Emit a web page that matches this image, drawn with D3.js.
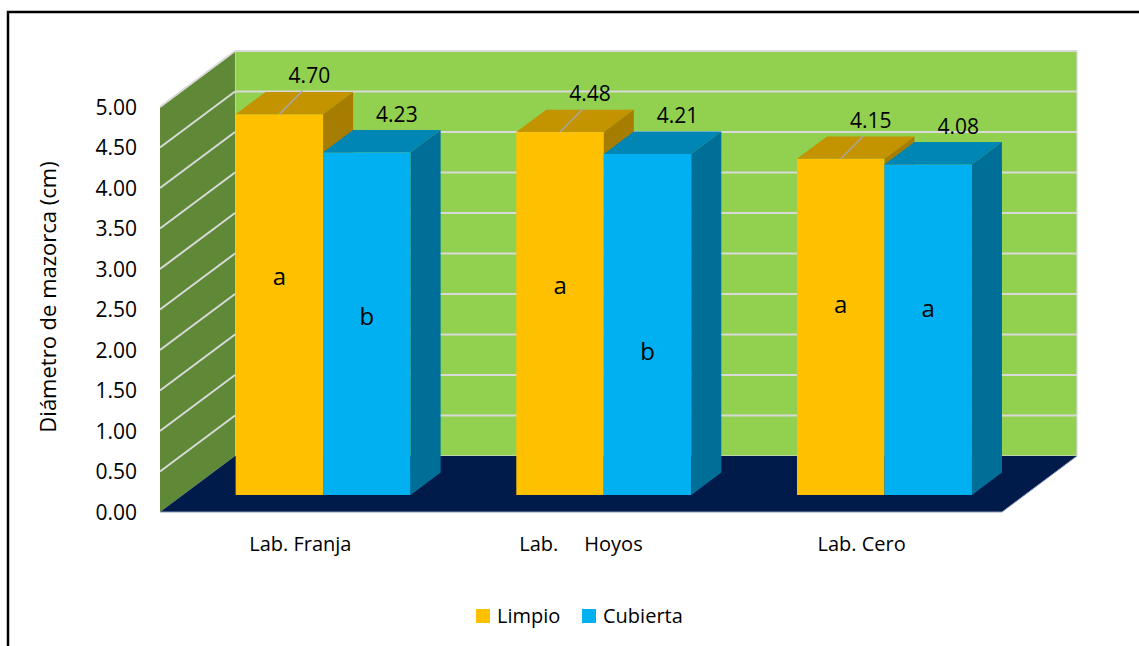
<!DOCTYPE html>
<html>
<head>
<meta charset="utf-8">
<script src="https://cdn.jsdelivr.net/npm/d3@7"></script>
<style>
  html, body { margin: 0; padding: 0; background: #fff; }
  svg { display: block; }
  text { font-family: "Open Sans", "Noto Sans", sans-serif; fill: #000; }
</style>
</head>
<body>
<svg id="chart" width="1139" height="646"></svg>
<script>
// ---- data ----
const categories = ["Lab. Franja", "Lab.     Hoyos", "Lab. Cero"];
const seriesNames = ["Limpio", "Cubierta"];
const limpio   = [4.70, 4.48, 4.15];
const cubierta = [4.23, 4.21, 4.08];
// significance letters and the height (in cm) where each one is written
const limpioLetters   = ["a", "a", "a"];
const cubiertaLetters = ["b", "b", "a"];
const limpioLetterAt   = [2.70, 2.59, 2.35];
const cubiertaLetterAt = [2.20, 1.77, 2.31];
const yTicks = [0, 0.5, 1, 1.5, 2, 2.5, 3, 3.5, 4, 4.5, 5];
const yTitle = "Diámetro de mazorca (cm)";

const seriesValues = [limpio, cubierta];
const seriesLetters = [limpioLetters, cubiertaLetters];
const seriesLetterAt = [limpioLetterAt, cubiertaLetterAt];

// ---- styles ----
const colors = {
  Limpio:   { front: "#FFC000", top: "#C49400", side: "#A67D00" },
  Cubierta: { front: "#00B0F0", top: "#0086B5", side: "#006F97" }
};
const wallBack = "#92D050", wallSide = "#5F8936", floorFill = "#001B4A", gridCol = "#D9D9D9";
const tickSize = 21, titleSize = 22, catSize = 20, valueSize = 21, legendSize = 20, letterSize = 24;

const svg = d3.select("#chart");

// ---- 3D projection: front plane scales + depth offset ----
const depthX = 75, depthY = -56;              // full floor depth
const x = d3.scaleBand().domain(categories).range([160, 1002]);
const xs = d3.scaleBand().domain(seriesNames).range([0, x.bandwidth()])
  .paddingInner(0).paddingOuter(0.604);
const y = d3.scaleLinear().domain([0, 5]).range([512, 107]);
const P = (px, py, z) => [px + depthX * z, py + depthY * z];

// frame
svg.append("path").attr("d", "M8,646 V12 H1139")
  .attr("fill", "none").attr("stroke", "#000").attr("stroke-width", 2.5);

// back wall
const bw0 = P(160, y(5), 1), bw1 = P(1002, y(0), 1);
svg.append("rect")
  .attr("x", bw0[0]).attr("y", bw0[1])
  .attr("width", bw1[0] - bw0[0]).attr("height", bw1[1] - bw0[1])
  .attr("fill", wallBack).attr("stroke", gridCol).attr("stroke-width", 1.2);

// side wall
const sidePts = [[160, y(0)], P(160, y(0), 1), P(160, y(5), 1), [160, y(5)]];
svg.append("polygon").attr("points", sidePts.map(p => p.join(",")).join(" "))
  .attr("fill", wallSide);

// gridlines on both walls
const gridVals = yTicks.filter(v => v > 0);
svg.append("g").selectAll("line.back").data(gridVals).join("line")
  .attr("x1", P(160, 0, 1)[0]).attr("x2", P(1002, 0, 1)[0])
  .attr("y1", d => P(0, y(d), 1)[1]).attr("y2", d => P(0, y(d), 1)[1])
  .attr("stroke", gridCol).attr("stroke-width", 2);
svg.append("g").selectAll("line.side").data(gridVals).join("line")
  .attr("x1", 160).attr("y1", d => y(d))
  .attr("x2", d => P(160, y(d), 1)[0]).attr("y2", d => P(160, y(d), 1)[1])
  .attr("stroke", gridCol).attr("stroke-width", 2);

// floor
const floorPts = [[160, y(0)], [1002, y(0)], P(1002, y(0), 1), P(160, y(0), 1)];
svg.append("polygon").attr("points", floorPts.map(p => p.join(",")).join(" "))
  .attr("fill", floorFill);
svg.append("path")
  .attr("d", `M160,${y(0)} H1002 L${P(1002, y(0), 1).join(",")}`)
  .attr("fill", "none").attr("stroke", "#8C9AB8").attr("stroke-width", 1);

// y axis tick labels
svg.append("g").selectAll("text").data(yTicks).join("text")
  .attr("x", 137).attr("y", d => y(d)).attr("dy", "0.36em")
  .attr("text-anchor", "end").attr("font-size", tickSize)
  .text(d3.format(".2f"));

// y axis title
svg.append("text")
  .attr("transform", "translate(48,297) rotate(-90)")
  .attr("text-anchor", "middle").attr("dy", "0.36em").attr("font-size", titleSize)
  .text(yTitle);

// category labels
svg.append("g").selectAll("text").data(categories).join("text")
  .attr("x", d => x(d) + x.bandwidth() / 2).attr("y", 551)
  .attr("text-anchor", "middle").attr("font-size", catSize)
  .style("white-space", "pre")
  .text(d => d);

// bars (front plane at z0, back plane at z1)
const z0 = 0.304, z1 = 0.704;
const bars = [];
categories.forEach((c, i) => {
  seriesNames.forEach((s, j) => {
    bars.push({ cat: c, ser: s, value: seriesValues[j][i],
      letter: seriesLetters[j][i], letterAt: seriesLetterAt[j][i] });
  });
});

const gBars = svg.append("g");
bars.forEach(b => {
  const xl = x(b.cat) + xs(b.ser), xr = xl + xs.bandwidth();
  const [fx0, fyb] = P(xl, y(0), z0);
  const [fx1, fyt] = P(xr, y(b.value), z0);
  const dx = depthX * (z1 - z0), dy = depthY * (z1 - z0);
  const col = colors[b.ser];
  const g = gBars.append("g");
  g.append("rect").attr("x", fx0).attr("y", fyt)
    .attr("width", fx1 - fx0).attr("height", fyb - fyt).attr("fill", col.front);
  g.append("polygon")
    .attr("points", [[fx0, fyt], [fx1, fyt], [fx1 + dx, fyt + dy], [fx0 + dx, fyt + dy]]
      .map(p => p.join(",")).join(" "))
    .attr("fill", col.top);
  g.append("polygon")
    .attr("points", [[fx1, fyt], [fx1, fyb], [fx1 + dx, fyb + dy], [fx1 + dx, fyt + dy]]
      .map(p => p.join(",")).join(" "))
    .attr("fill", col.side);
  b.geom = { fx0, fx1, fyt, fyb, dx, dy };
});

// significance letters on the bar faces
bars.forEach(b => {
  const { fx0, fx1 } = b.geom;
  svg.append("text")
    .attr("x", (fx0 + fx1) / 2).attr("y", P(0, y(b.letterAt), z0)[1])
    .attr("dy", "0.36em").attr("text-anchor", "middle").attr("font-size", letterSize)
    .text(b.letter);
});

// value labels above each bar, with leader lines for the first series
bars.forEach(b => {
  const { fx0, fx1, fyt, dx, dy } = b.geom;
  const cx = (fx0 + fx1) / 2 + dx;
  const ly = fyt + dy - 16;
  if (b.ser === "Limpio") {
    svg.append("line")
      .attr("x1", (fx0 + fx1) / 2).attr("y1", fyt)
      .attr("x2", cx - 7).attr("y2", ly + 15)
      .attr("stroke", "#A6A6A6").attr("stroke-width", 1.5);
  }
  svg.append("text").attr("x", cx).attr("y", ly).attr("dy", "0.36em")
    .attr("text-anchor", "middle").attr("font-size", valueSize)
    .text(d3.format(".2f")(b.value));
});

// legend
const legend = svg.append("g").attr("transform", "translate(476,609)");
const legX = [0, 106];
seriesNames.forEach((s, i) => {
  const g = legend.append("g").attr("transform", `translate(${legX[i]},0)`);
  g.append("rect").attr("width", 14).attr("height", 14).attr("fill", colors[s].front);
  g.append("text").attr("x", 21).attr("y", 7).attr("dy", "0.36em")
    .attr("font-size", legendSize).text(s);
});
</script>
</body>
</html>
